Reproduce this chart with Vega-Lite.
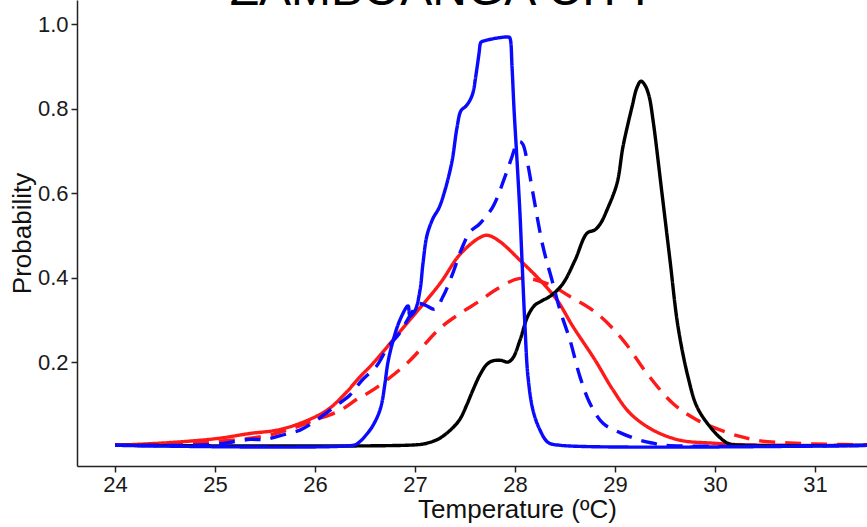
{
  "$schema": "https://vega.github.io/schema/vega-lite/v6.json",
  "width": 790,
  "height": 466,
  "autosize": {"type": "none"},
  "padding": {"left": 77, "top": 0, "right": 0, "bottom": 61},
  "background": "white",
  "title": {"text": "ZAMBOANGA CITY", "fontSize": 48, "font": "Liberation Sans", "fontWeight": "normal", "color": "black", "anchor": "middle", "dx": -29, "offset": -15, "baseline": "top", "frame": "group"},
  "datasets": {
    "curves": [
      {"s": "Red dashed", "dash": "dashed", "i": 1, "t": 24, "p": 0.003},
      {"s": "Red dashed", "dash": "dashed", "i": 2, "t": 24.5, "p": 0.006},
      {"s": "Red dashed", "dash": "dashed", "i": 3, "t": 25.0, "p": 0.012},
      {"s": "Red dashed", "dash": "dashed", "i": 4, "t": 25.5, "p": 0.025},
      {"s": "Red dashed", "dash": "dashed", "i": 5, "t": 25.8, "p": 0.045},
      {"s": "Red dashed", "dash": "dashed", "i": 6, "t": 26.0, "p": 0.063},
      {"s": "Red dashed", "dash": "dashed", "i": 7, "t": 26.15, "p": 0.075},
      {"s": "Red dashed", "dash": "dashed", "i": 8, "t": 26.27, "p": 0.088},
      {"s": "Red dashed", "dash": "dashed", "i": 9, "t": 26.42, "p": 0.112},
      {"s": "Red dashed", "dash": "dashed", "i": 10, "t": 26.58, "p": 0.134},
      {"s": "Red dashed", "dash": "dashed", "i": 11, "t": 26.92, "p": 0.197},
      {"s": "Red dashed", "dash": "dashed", "i": 12, "t": 27.25, "p": 0.28},
      {"s": "Red dashed", "dash": "dashed", "i": 13, "t": 27.45, "p": 0.315},
      {"s": "Red dashed", "dash": "dashed", "i": 14, "t": 27.65, "p": 0.345},
      {"s": "Red dashed", "dash": "dashed", "i": 15, "t": 27.8, "p": 0.37},
      {"s": "Red dashed", "dash": "dashed", "i": 16, "t": 28.05, "p": 0.398},
      {"s": "Red dashed", "dash": "dashed", "i": 17, "t": 28.32, "p": 0.386},
      {"s": "Red dashed", "dash": "dashed", "i": 18, "t": 28.55, "p": 0.355},
      {"s": "Red dashed", "dash": "dashed", "i": 19, "t": 28.82, "p": 0.315},
      {"s": "Red dashed", "dash": "dashed", "i": 20, "t": 29.08, "p": 0.252},
      {"s": "Red dashed", "dash": "dashed", "i": 21, "t": 29.32, "p": 0.173},
      {"s": "Red dashed", "dash": "dashed", "i": 22, "t": 29.58, "p": 0.102},
      {"s": "Red dashed", "dash": "dashed", "i": 23, "t": 29.82, "p": 0.063},
      {"s": "Red dashed", "dash": "dashed", "i": 24, "t": 30.15, "p": 0.031},
      {"s": "Red dashed", "dash": "dashed", "i": 25, "t": 30.3, "p": 0.021},
      {"s": "Red dashed", "dash": "dashed", "i": 26, "t": 30.47, "p": 0.013},
      {"s": "Red dashed", "dash": "dashed", "i": 27, "t": 30.7, "p": 0.009},
      {"s": "Red dashed", "dash": "dashed", "i": 28, "t": 31.0, "p": 0.006},
      {"s": "Red dashed", "dash": "dashed", "i": 29, "t": 31.6, "p": 0.004},

      {"s": "Red solid", "dash": "solid", "i": 1, "t": 24, "p": 0.003},
      {"s": "Red solid", "dash": "solid", "i": 2, "t": 24.52, "p": 0.009},
      {"s": "Red solid", "dash": "solid", "i": 3, "t": 25.02, "p": 0.019},
      {"s": "Red solid", "dash": "solid", "i": 4, "t": 25.35, "p": 0.031},
      {"s": "Red solid", "dash": "solid", "i": 5, "t": 25.62, "p": 0.039},
      {"s": "Red solid", "dash": "solid", "i": 6, "t": 25.85, "p": 0.055},
      {"s": "Red solid", "dash": "solid", "i": 7, "t": 26.12, "p": 0.086},
      {"s": "Red solid", "dash": "solid", "i": 8, "t": 26.3, "p": 0.125},
      {"s": "Red solid", "dash": "solid", "i": 9, "t": 26.45, "p": 0.165},
      {"s": "Red solid", "dash": "solid", "i": 10, "t": 26.58, "p": 0.197},
      {"s": "Red solid", "dash": "solid", "i": 11, "t": 26.92, "p": 0.292},
      {"s": "Red solid", "dash": "solid", "i": 12, "t": 27.25, "p": 0.386},
      {"s": "Red solid", "dash": "solid", "i": 13, "t": 27.45, "p": 0.455},
      {"s": "Red solid", "dash": "solid", "i": 14, "t": 27.65, "p": 0.495},
      {"s": "Red solid", "dash": "solid", "i": 15, "t": 27.73, "p": 0.5},
      {"s": "Red solid", "dash": "solid", "i": 16, "t": 27.85, "p": 0.485},
      {"s": "Red solid", "dash": "solid", "i": 17, "t": 28.05, "p": 0.441},
      {"s": "Red solid", "dash": "solid", "i": 18, "t": 28.25, "p": 0.394},
      {"s": "Red solid", "dash": "solid", "i": 19, "t": 28.42, "p": 0.347},
      {"s": "Red solid", "dash": "solid", "i": 20, "t": 28.58, "p": 0.284},
      {"s": "Red solid", "dash": "solid", "i": 21, "t": 28.8, "p": 0.205},
      {"s": "Red solid", "dash": "solid", "i": 22, "t": 28.98, "p": 0.134},
      {"s": "Red solid", "dash": "solid", "i": 23, "t": 29.15, "p": 0.079},
      {"s": "Red solid", "dash": "solid", "i": 24, "t": 29.38, "p": 0.039},
      {"s": "Red solid", "dash": "solid", "i": 25, "t": 29.65, "p": 0.015},
      {"s": "Red solid", "dash": "solid", "i": 26, "t": 29.98, "p": 0.008},
      {"s": "Red solid", "dash": "solid", "i": 27, "t": 30.3, "p": 0.004},
      {"s": "Red solid", "dash": "solid", "i": 28, "t": 31.6, "p": 0.003},

      {"s": "Black", "dash": "solid", "i": 1, "t": 24, "p": 0.003},
      {"s": "Black", "dash": "solid", "i": 2, "t": 27.0, "p": 0.004},
      {"s": "Black", "dash": "solid", "i": 3, "t": 27.12, "p": 0.008},
      {"s": "Black", "dash": "solid", "i": 4, "t": 27.25, "p": 0.02},
      {"s": "Black", "dash": "solid", "i": 5, "t": 27.38, "p": 0.045},
      {"s": "Black", "dash": "solid", "i": 6, "t": 27.45, "p": 0.065},
      {"s": "Black", "dash": "solid", "i": 7, "t": 27.52, "p": 0.1},
      {"s": "Black", "dash": "solid", "i": 8, "t": 27.58, "p": 0.134},
      {"s": "Black", "dash": "solid", "i": 9, "t": 27.65, "p": 0.17},
      {"s": "Black", "dash": "solid", "i": 10, "t": 27.72, "p": 0.195},
      {"s": "Black", "dash": "solid", "i": 11, "t": 27.78, "p": 0.203},
      {"s": "Black", "dash": "solid", "i": 12, "t": 27.86, "p": 0.204},
      {"s": "Black", "dash": "solid", "i": 13, "t": 27.93, "p": 0.2},
      {"s": "Black", "dash": "solid", "i": 14, "t": 27.98, "p": 0.21},
      {"s": "Black", "dash": "solid", "i": 15, "t": 28.05, "p": 0.252},
      {"s": "Black", "dash": "solid", "i": 16, "t": 28.13, "p": 0.31},
      {"s": "Black", "dash": "solid", "i": 17, "t": 28.2, "p": 0.335},
      {"s": "Black", "dash": "solid", "i": 18, "t": 28.27, "p": 0.345},
      {"s": "Black", "dash": "solid", "i": 19, "t": 28.37, "p": 0.359},
      {"s": "Black", "dash": "solid", "i": 20, "t": 28.48, "p": 0.386},
      {"s": "Black", "dash": "solid", "i": 21, "t": 28.6, "p": 0.441},
      {"s": "Black", "dash": "solid", "i": 22, "t": 28.72, "p": 0.505},
      {"s": "Black", "dash": "solid", "i": 23, "t": 28.8, "p": 0.513},
      {"s": "Black", "dash": "solid", "i": 24, "t": 28.86, "p": 0.53},
      {"s": "Black", "dash": "solid", "i": 25, "t": 28.92, "p": 0.56},
      {"s": "Black", "dash": "solid", "i": 26, "t": 29.02, "p": 0.623},
      {"s": "Black", "dash": "solid", "i": 27, "t": 29.08, "p": 0.71},
      {"s": "Black", "dash": "solid", "i": 28, "t": 29.17, "p": 0.804},
      {"s": "Black", "dash": "solid", "i": 29, "t": 29.22, "p": 0.85},
      {"s": "Black", "dash": "solid", "i": 30, "t": 29.26, "p": 0.865},
      {"s": "Black", "dash": "solid", "i": 31, "t": 29.3, "p": 0.855},
      {"s": "Black", "dash": "solid", "i": 32, "t": 29.34, "p": 0.83},
      {"s": "Black", "dash": "solid", "i": 33, "t": 29.38, "p": 0.773},
      {"s": "Black", "dash": "solid", "i": 34, "t": 29.47, "p": 0.599},
      {"s": "Black", "dash": "solid", "i": 35, "t": 29.55, "p": 0.441},
      {"s": "Black", "dash": "solid", "i": 36, "t": 29.63, "p": 0.284},
      {"s": "Black", "dash": "solid", "i": 37, "t": 29.73, "p": 0.165},
      {"s": "Black", "dash": "solid", "i": 38, "t": 29.82, "p": 0.094},
      {"s": "Black", "dash": "solid", "i": 39, "t": 29.95, "p": 0.047},
      {"s": "Black", "dash": "solid", "i": 40, "t": 30.08, "p": 0.015},
      {"s": "Black", "dash": "solid", "i": 41, "t": 30.15, "p": 0.006},
      {"s": "Black", "dash": "solid", "i": 42, "t": 30.3, "p": 0.003},
      {"s": "Black", "dash": "solid", "i": 43, "t": 31.6, "p": 0.003},

      {"s": "Blue dashed", "dash": "dashed", "i": 1, "t": 24, "p": 0.003},
      {"s": "Blue dashed", "dash": "dashed", "i": 2, "t": 25.0, "p": 0.005},
      {"s": "Blue dashed", "dash": "dashed", "i": 3, "t": 25.2, "p": 0.012},
      {"s": "Blue dashed", "dash": "dashed", "i": 4, "t": 25.35, "p": 0.017},
      {"s": "Blue dashed", "dash": "dashed", "i": 5, "t": 25.5, "p": 0.017},
      {"s": "Blue dashed", "dash": "dashed", "i": 6, "t": 25.7, "p": 0.029},
      {"s": "Blue dashed", "dash": "dashed", "i": 7, "t": 25.85, "p": 0.039},
      {"s": "Blue dashed", "dash": "dashed", "i": 8, "t": 26.0, "p": 0.06},
      {"s": "Blue dashed", "dash": "dashed", "i": 9, "t": 26.2, "p": 0.095},
      {"s": "Blue dashed", "dash": "dashed", "i": 10, "t": 26.35, "p": 0.122},
      {"s": "Blue dashed", "dash": "dashed", "i": 11, "t": 26.47, "p": 0.157},
      {"s": "Blue dashed", "dash": "dashed", "i": 12, "t": 26.62, "p": 0.192},
      {"s": "Blue dashed", "dash": "dashed", "i": 13, "t": 26.72, "p": 0.232},
      {"s": "Blue dashed", "dash": "dashed", "i": 14, "t": 26.85, "p": 0.27},
      {"s": "Blue dashed", "dash": "dashed", "i": 15, "t": 26.97, "p": 0.318},
      {"s": "Blue dashed", "dash": "dashed", "i": 16, "t": 27.03, "p": 0.338},
      {"s": "Blue dashed", "dash": "dashed", "i": 17, "t": 27.1, "p": 0.335},
      {"s": "Blue dashed", "dash": "dashed", "i": 18, "t": 27.2, "p": 0.325},
      {"s": "Blue dashed", "dash": "dashed", "i": 19, "t": 27.28, "p": 0.355},
      {"s": "Blue dashed", "dash": "dashed", "i": 20, "t": 27.37, "p": 0.405},
      {"s": "Blue dashed", "dash": "dashed", "i": 21, "t": 27.47, "p": 0.47},
      {"s": "Blue dashed", "dash": "dashed", "i": 22, "t": 27.55, "p": 0.508},
      {"s": "Blue dashed", "dash": "dashed", "i": 23, "t": 27.65, "p": 0.528},
      {"s": "Blue dashed", "dash": "dashed", "i": 24, "t": 27.78, "p": 0.568},
      {"s": "Blue dashed", "dash": "dashed", "i": 25, "t": 27.9, "p": 0.639},
      {"s": "Blue dashed", "dash": "dashed", "i": 26, "t": 27.97, "p": 0.686},
      {"s": "Blue dashed", "dash": "dashed", "i": 27, "t": 28.02, "p": 0.718},
      {"s": "Blue dashed", "dash": "dashed", "i": 28, "t": 28.05, "p": 0.722},
      {"s": "Blue dashed", "dash": "dashed", "i": 29, "t": 28.08, "p": 0.715},
      {"s": "Blue dashed", "dash": "dashed", "i": 30, "t": 28.12, "p": 0.678},
      {"s": "Blue dashed", "dash": "dashed", "i": 31, "t": 28.18, "p": 0.599},
      {"s": "Blue dashed", "dash": "dashed", "i": 32, "t": 28.28, "p": 0.473},
      {"s": "Blue dashed", "dash": "dashed", "i": 33, "t": 28.37, "p": 0.394},
      {"s": "Blue dashed", "dash": "dashed", "i": 34, "t": 28.45, "p": 0.323},
      {"s": "Blue dashed", "dash": "dashed", "i": 35, "t": 28.55, "p": 0.252},
      {"s": "Blue dashed", "dash": "dashed", "i": 36, "t": 28.65, "p": 0.165},
      {"s": "Blue dashed", "dash": "dashed", "i": 37, "t": 28.75, "p": 0.102},
      {"s": "Blue dashed", "dash": "dashed", "i": 38, "t": 28.88, "p": 0.055},
      {"s": "Blue dashed", "dash": "dashed", "i": 39, "t": 29.05, "p": 0.033},
      {"s": "Blue dashed", "dash": "dashed", "i": 40, "t": 29.25, "p": 0.015},
      {"s": "Blue dashed", "dash": "dashed", "i": 41, "t": 29.38, "p": 0.008},
      {"s": "Blue dashed", "dash": "dashed", "i": 42, "t": 29.5, "p": 0.003},
      {"s": "Blue dashed", "dash": "dashed", "i": 43, "t": 31.6, "p": 0.003},

      {"s": "Blue solid", "dash": "solid", "i": 1, "t": 24, "p": 0.003},
      {"s": "Blue solid", "dash": "solid", "i": 2, "t": 26.38, "p": 0.003},
      {"s": "Blue solid", "dash": "solid", "i": 3, "t": 26.43, "p": 0.008},
      {"s": "Blue solid", "dash": "solid", "i": 4, "t": 26.52, "p": 0.03},
      {"s": "Blue solid", "dash": "solid", "i": 5, "t": 26.58, "p": 0.05},
      {"s": "Blue solid", "dash": "solid", "i": 6, "t": 26.64, "p": 0.08},
      {"s": "Blue solid", "dash": "solid", "i": 7, "t": 26.67, "p": 0.105},
      {"s": "Blue solid", "dash": "solid", "i": 8, "t": 26.7, "p": 0.15},
      {"s": "Blue solid", "dash": "solid", "i": 9, "t": 26.73, "p": 0.2},
      {"s": "Blue solid", "dash": "solid", "i": 10, "t": 26.78, "p": 0.25},
      {"s": "Blue solid", "dash": "solid", "i": 11, "t": 26.85, "p": 0.3},
      {"s": "Blue solid", "dash": "solid", "i": 12, "t": 26.93, "p": 0.333},
      {"s": "Blue solid", "dash": "solid", "i": 13, "t": 26.95, "p": 0.31},
      {"s": "Blue solid", "dash": "solid", "i": 14, "t": 27.0, "p": 0.322},
      {"s": "Blue solid", "dash": "solid", "i": 15, "t": 27.05, "p": 0.37},
      {"s": "Blue solid", "dash": "solid", "i": 16, "t": 27.08, "p": 0.434},
      {"s": "Blue solid", "dash": "solid", "i": 17, "t": 27.12, "p": 0.5},
      {"s": "Blue solid", "dash": "solid", "i": 18, "t": 27.18, "p": 0.54},
      {"s": "Blue solid", "dash": "solid", "i": 19, "t": 27.24, "p": 0.565},
      {"s": "Blue solid", "dash": "solid", "i": 20, "t": 27.3, "p": 0.607},
      {"s": "Blue solid", "dash": "solid", "i": 21, "t": 27.37, "p": 0.675},
      {"s": "Blue solid", "dash": "solid", "i": 22, "t": 27.42, "p": 0.755},
      {"s": "Blue solid", "dash": "solid", "i": 23, "t": 27.46, "p": 0.795},
      {"s": "Blue solid", "dash": "solid", "i": 24, "t": 27.51, "p": 0.806},
      {"s": "Blue solid", "dash": "solid", "i": 25, "t": 27.55, "p": 0.82},
      {"s": "Blue solid", "dash": "solid", "i": 26, "t": 27.58, "p": 0.838},
      {"s": "Blue solid", "dash": "solid", "i": 27, "t": 27.61, "p": 0.88},
      {"s": "Blue solid", "dash": "solid", "i": 28, "t": 27.64, "p": 0.93},
      {"s": "Blue solid", "dash": "solid", "i": 29, "t": 27.655, "p": 0.955},
      {"s": "Blue solid", "dash": "solid", "i": 30, "t": 27.665, "p": 0.958},
      {"s": "Blue solid", "dash": "solid", "i": 31, "t": 27.94, "p": 0.969},
      {"s": "Blue solid", "dash": "solid", "i": 32, "t": 27.952, "p": 0.965},
      {"s": "Blue solid", "dash": "solid", "i": 33, "t": 27.97, "p": 0.9},
      {"s": "Blue solid", "dash": "solid", "i": 34, "t": 27.99, "p": 0.8},
      {"s": "Blue solid", "dash": "solid", "i": 35, "t": 28.02, "p": 0.678},
      {"s": "Blue solid", "dash": "solid", "i": 36, "t": 28.05, "p": 0.55},
      {"s": "Blue solid", "dash": "solid", "i": 37, "t": 28.07, "p": 0.441},
      {"s": "Blue solid", "dash": "solid", "i": 38, "t": 28.1, "p": 0.284},
      {"s": "Blue solid", "dash": "solid", "i": 39, "t": 28.13, "p": 0.165},
      {"s": "Blue solid", "dash": "solid", "i": 40, "t": 28.18, "p": 0.086},
      {"s": "Blue solid", "dash": "solid", "i": 41, "t": 28.25, "p": 0.039},
      {"s": "Blue solid", "dash": "solid", "i": 42, "t": 28.33, "p": 0.01},
      {"s": "Blue solid", "dash": "solid", "i": 43, "t": 28.45, "p": 0.003},
      {"s": "Blue solid", "dash": "solid", "i": 44, "t": 31.6, "p": 0.003}
    ]
  },
  "data": {"name": "curves"},
  "mark": {"type": "line", "clip": true, "strokeWidth": 3.4, "strokeCap": "butt", "strokeJoin": "round", "interpolate": "catmull-rom"},
  "encoding": {
    "x": {
      "field": "t", "type": "quantitative",
      "scale": {"domain": [23.62, 31.52], "nice": false, "zero": false},
      "axis": {"values": [24, 25, 26, 27, 28, 29, 30, 31], "title": "Temperature (ºC)", "titleX": 440, "labelPadding": 2, "titlePadding": 1}
    },
    "y": {
      "field": "p", "type": "quantitative",
      "scale": {"domain": [-0.046, 1.057], "nice": false, "zero": false},
      "axis": {"values": [0.2, 0.4, 0.6, 0.8, 1.0], "format": ".1f", "title": "Probability", "labelPadding": 3, "titlePadding": 2}
    },
    "color": {
      "field": "s", "type": "nominal", "legend": null,
      "scale": {"domain": ["Red dashed", "Red solid", "Black", "Blue dashed", "Blue solid"], "range": ["#ff1a1a", "#ff1a1a", "#000000", "#0a0aff", "#0a0aff"]}
    },
    "strokeDash": {
      "field": "dash", "type": "nominal", "legend": null,
      "scale": {"domain": ["solid", "dashed"], "range": [[1, 0], [16, 10]]}
    },
    "order": {"field": "i", "type": "quantitative"}
  },
  "config": {
    "view": {"stroke": null},
    "axis": {
      "grid": false,
      "domainColor": "#222222", "domainWidth": 1.5,
      "tickColor": "#222222", "tickWidth": 1.5, "tickSize": 6,
      "labelFont": "Liberation Sans", "labelFontSize": 22, "labelColor": "#1a1a1a",
      "titleFont": "Liberation Sans", "titleFontSize": 26, "titleFontWeight": "normal", "titleColor": "#111111"
    }
  }
}
